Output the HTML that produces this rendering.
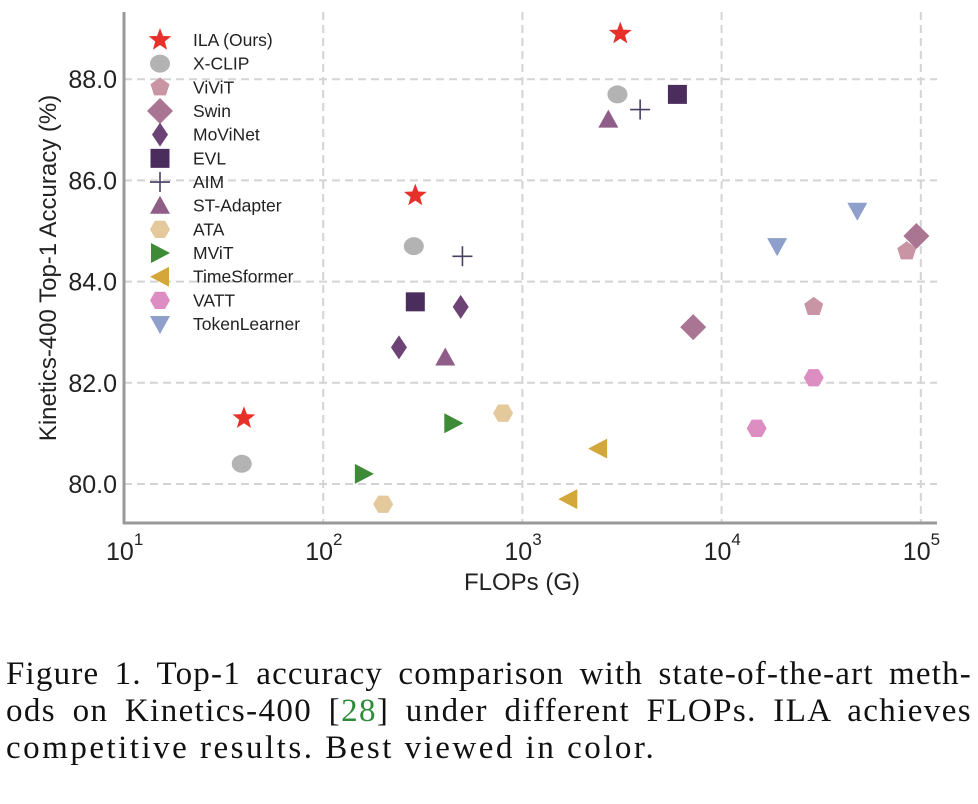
<!DOCTYPE html>
<html><head><meta charset="utf-8">
<style>
html,body{margin:0;padding:0;background:#fff;}
svg{display:block;font-family:"Liberation Sans",sans-serif;}
.cap{position:absolute;left:6px;top:656px;width:966px;font-family:"Liberation Serif",serif;font-size:33px;letter-spacing:2.5px;line-height:37px;color:#111;}
.cap div{text-align:justify;text-align-last:justify;white-space:nowrap;}
.cap div.last{text-align-last:left;}
</style></head><body>
<div style="position:relative;width:978px;height:804px;overflow:hidden">
<svg id="chart" width="978" height="640"></svg>
<div class="cap">
<div style="letter-spacing:1.2px">Figure 1. Top-1 accuracy comparison with state-of-the-art meth-</div>
<div style="letter-spacing:1.4px">ods on Kinetics-400 [<span style="color:#2e8b3a">28</span>] under different FLOPs. ILA achieves</div>
<div class="last">competitive results. Best viewed in color.</div>
</div>
</div>
<script>
const methods=["ILA (Ours)","X-CLIP","ViViT","Swin","MoViNet","EVL","AIM","ST-Adapter","ATA","MViT","TimeSformer","VATT","TokenLearner"];
const colors=["#e8302a","#b3b3b3","#c994a4","#a97593","#6d4275","#4a2d5c","#4a3f62","#8e5e88","#e3c99b","#3d8b37","#d4a73a","#dc8ec2","#8d9fca"];
const shapes=["star","circle","pentagon","bigdiamond","diamond","square","plus","triangle","hexagon","right","left","hexagon","down"];
const flops=[[40,290,3100],[39,285,3000],[29000,85000],[7200,95000],[240,490],[290,6000],[500,3900],[410,2700],[200,800],[160,450],[1700,2400],[15000,29000],[19000,48000]];
const acc=[[81.3,85.7,88.9],[80.4,84.7,87.7],[83.5,84.6],[83.1,84.9],[82.7,83.5],[83.6,87.7],[84.5,87.4],[82.5,87.2],[79.6,81.4],[80.2,81.2],[79.7,80.7],[81.1,82.1],[84.7,85.4]];
const yTicks=[80,82,84,86,88];
const xTicks=[1,2,3,4,5];

const NS="http://www.w3.org/2000/svg";
const svg=document.getElementById('chart');
const X0=124,DEC=199.2,Y80=484,PPU=50.6;
const xs=v=>X0+(Math.log10(v)-1)*DEC;
const ys=v=>Y80-(v-80)*PPU;
function el(t,a,p){const e=document.createElementNS(NS,t);for(const k in a)e.setAttribute(k,a[k]);(p||svg).appendChild(e);return e;}

const grid=el('g',{});


yTicks.forEach(t=>{const l=el('line',{x1:X0,x2:937,y1:ys(t),y2:ys(t),stroke:'#d4d4d4','stroke-width':2,'stroke-dasharray':'8,5'},grid);});
xTicks.forEach(t=>{if(t===1)return;const x=X0+(t-1)*DEC;const l=el('line',{x1:x,x2:x,y1:12,y2:523,stroke:'#d4d4d4','stroke-width':2,'stroke-dasharray':'8,5'},grid);});

const ax=el('g',{});


el('line',{x1:X0,x2:X0,y1:12,y2:524,stroke:'#999','stroke-width':3},ax);
el('line',{x1:X0-1,x2:937,y1:523,y2:523,stroke:'#999','stroke-width':3},ax);

yTicks.forEach(t=>{const tx=el('text',{x:117,y:ys(t)+9,'text-anchor':'end','font-size':25,fill:'#222'});tx.textContent=t.toFixed(1);});
xTicks.forEach(t=>{const x=X0+(t-1)*DEC;const tx=el('text',{x:x-18,y:560,'font-size':25,fill:'#222'});
 tx.textContent='10';const s=el('tspan',{dy:-15,'font-size':17},tx);s.textContent=String(t);});

const xl=el('text',{x:522,y:590,'text-anchor':'middle','font-size':24,fill:'#222'});xl.textContent='FLOPs (G)';

const yl=el('text',{x:0,y:0,transform:'translate(56,268) rotate(-90)','text-anchor':'middle','font-size':24,fill:'#222'});yl.textContent='Kinetics-400 Top-1 Accuracy (%)';


function poly(n,r,rot){let p=[];for(let i=0;i<n;i++){const a=rot+i*2*Math.PI/n;p.push((r*Math.cos(a)).toFixed(2)+','+(r*Math.sin(a)).toFixed(2));}return p.join(' ');}
function marker(shape,x,y,c,g){
 const t=`translate(${x},${y})`;let e;
 switch(shape){
 case 'star':{let p=[];for(let i=0;i<10;i++){const r=i%2?5:12;const a=-Math.PI/2+i*Math.PI/5;p.push((r*Math.cos(a)).toFixed(2)+','+(r*Math.sin(a)).toFixed(2));}e=el('polygon',{points:p.join(' '),fill:c,transform:t},g);break;}
 case 'circle':e=el('ellipse',{cx:x,cy:y,rx:10,ry:9,fill:c},g);break;
 case 'pentagon':e=el('polygon',{points:poly(5,10,-Math.PI/2),fill:c,transform:t},g);break;
 case 'bigdiamond':e=el('polygon',{points:'0,-13 13,0 0,13 -13,0',fill:c,transform:t},g);break;
 case 'diamond':e=el('polygon',{points:'0,-12 8,0 0,12 -8,0',fill:c,transform:t},g);break;
 case 'square':e=el('rect',{x:x-9.5,y:y-9.5,width:19,height:19,fill:c},g);break;
 case 'plus':e=el('path',{d:'M-10,0H10M0,-10V10',stroke:c,'stroke-width':1.6,fill:'none',transform:t},g);break;
 case 'triangle':e=el('polygon',{points:'0,-10 10,8 -10,8',fill:c,transform:t},g);break;
 case 'down':e=el('polygon',{points:'0,10 10,-8 -10,-8',fill:c,transform:t},g);break;
 case 'right':e=el('polygon',{points:'10,0 -9,-10 -9,10',fill:c,transform:t},g);break;
 case 'left':e=el('polygon',{points:'-10,0 9,-10 9,10',fill:c,transform:t},g);break;
 case 'hexagon':e=el('polygon',{points:poly(6,10,0),fill:c,transform:t},g);break;
 }
 return e;
}
methods.forEach((m,i)=>{
 const g=el('g',{});
 
 
 flops[i].forEach((f,j)=>{const e=marker(shapes[i],xs(f),ys(acc[i][j]),colors[i],g);
  
  });
});
const lg=el('g',{});


methods.forEach((m,i)=>{
 const y=40+i*23.67;
 const e=marker(shapes[i],160,y,colors[i],lg);
 
 
 const t=el('text',{x:193,y:y+6,'font-size':17.5,fill:'#222'},lg);t.textContent=m;
 
 
});
</script>
</body></html>
